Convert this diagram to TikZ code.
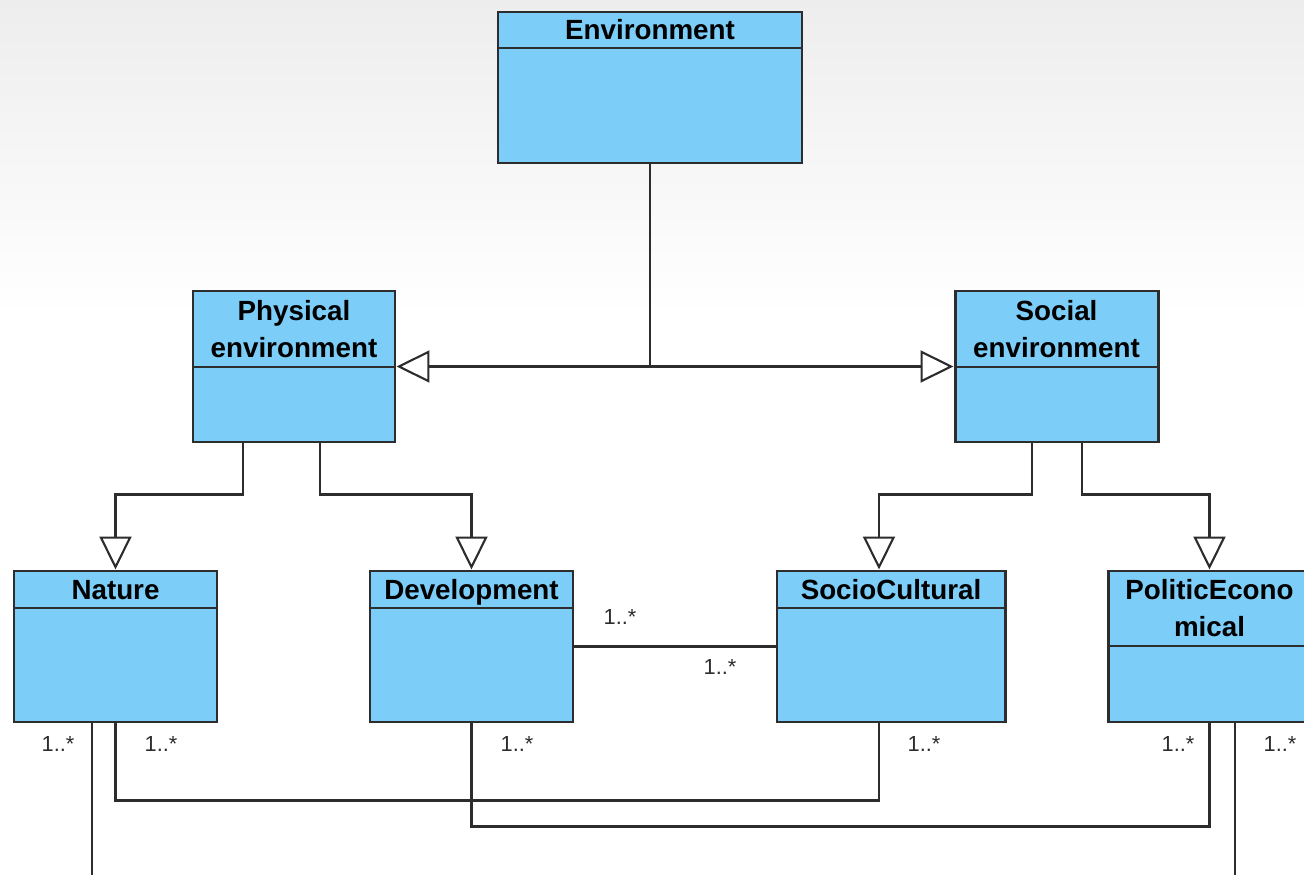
\documentclass[tikz,border=0pt]{standalone}
\usepackage{fontspec}
\setmainfont{Liberation Sans}
\usepackage{tikz}
\usepackage{xcolor}
\usetikzlibrary{positioning,arrows.meta}
\definecolor{classblue}{RGB}{124,205,248}
\definecolor{linegray}{RGB}{45,45,45}

\begin{document}
\begin{tikzpicture}[scale=1.0,
    box/.style={rectangle, draw=linegray, line width=0.85pt, fill=classblue, inner sep=0pt},
    head/.style={rectangle, draw=linegray, line width=0.85pt, fill=classblue, inner sep=0pt,
                 anchor=north, align=center, font=\fontsize{7.9}{10.5}\selectfont\bfseries},
    headone/.style={head, text height=2.0mm, text depth=0mm},
    gen/.style={draw=linegray, line width=0.6pt, -{Triangle[open, length=0.33cm, width=0.32cm]}},
    assoc/.style={draw=linegray, line width=0.6pt},
    mult/.style={font=\fontsize{6.2}{7}\selectfont, text=linegray, inner sep=0pt}]
      %\draw [dotted] (0,0) grid (13,9);
      \useasboundingbox (0,0) rectangle (13.04,8.74);
      \fill [white] (0,0) rectangle (13.04,8.74);
      \shade [top color=black!7, bottom color=white] (0,5.6) rectangle (13.04,8.74);
      % classes
      \node [box, minimum width=3.04cm, minimum height=1.51cm] (env)  at ( 6.500, 7.865) {};
      \node [headone, minimum width=3.04cm, minimum height=0.36cm] (envh) at (env.north) {Environment};
      \node [box, minimum width=2.02cm, minimum height=1.51cm] (phys) at ( 2.940, 5.075) {};
      \node [head, minimum width=2.02cm, minimum height=0.76cm] (physh) at (phys.north) {Physical\\environment};
      \node [box, minimum width=2.03cm, minimum height=1.51cm] (soc)  at (10.565, 5.075) {};
      \node [head, minimum width=2.03cm, minimum height=0.76cm] (soch) at (soc.north) {Social\\environment};
      \node [box, minimum width=2.03cm, minimum height=1.51cm] (nat)  at ( 1.155, 2.275) {};
      \node [headone, minimum width=2.03cm, minimum height=0.37cm] (nath) at (nat.north) {Nature};
      \node [box, minimum width=2.03cm, minimum height=1.51cm] (dev)  at ( 4.715, 2.275) {};
      \node [headone, minimum width=2.03cm, minimum height=0.37cm] (devh) at (dev.north) {Development};
      \node [box, minimum width=2.28cm, minimum height=1.51cm] (soci) at ( 8.910, 2.275) {};
      \node [headone, minimum width=2.28cm, minimum height=0.37cm] (socih) at (soci.north) {SocioCultural};
      \node [box, minimum width=2.03cm, minimum height=1.51cm] (pol)  at (12.095, 2.275) {};
      \node [head, minimum width=2.03cm, minimum height=0.75cm] (polh) at (pol.north) {PoliticEcono\\mical};
      % generalizations
      \coordinate (junc) at (env.south |- phys.east);
      \draw [assoc] (env.south) -- (junc);
      \draw [gen] (junc) -- (phys.east);
      \draw [gen] (junc) -- (soc.west);
      \draw [gen] ([xshift=-0.51cm]phys.south) -- ++(0,-0.51) -| (nat.north);
      \draw [gen] ([xshift=0.26cm]phys.south) -- ++(0,-0.51) -| (dev.north);
      \draw [gen] ([xshift=-0.245cm]soc.south) -- ++(0,-0.51) -| ([xshift=-0.12cm]soci.north);
      \draw [gen] ([xshift=0.255cm]soc.south) -- ++(0,-0.51) -| (pol.north);
      % associations
      \draw [assoc] (dev.east) -- (soci.west);
      \draw [assoc] (nat.south) -- ++(0,-0.77) -| ([xshift=-0.12cm]soci.south);
      \draw [assoc] (dev.south) -- ++(0,-1.03) -| (pol.south);
      \draw [assoc] ([xshift=-0.235cm]nat.south) -- ++(0,-1.54) -| ([xshift=0.255cm]pol.south);
      % multiplicities
      \node [mult] (m1) at ( 6.20, 2.57) {1..*};
      \node [mult] (m2) at ( 7.20, 2.07) {1..*};
      \node [mult] (m3) at ( 0.58, 1.30) {1..*};
      \node [mult] (m4) at ( 1.61, 1.30) {1..*};
      \node [mult] (m5) at ( 5.17, 1.30) {1..*};
      \node [mult] (m6) at ( 9.24, 1.30) {1..*};
      \node [mult] (m7) at (11.78, 1.30) {1..*};
      \node [mult] (m8) at (12.80, 1.30) {1..*};
\end{tikzpicture}
\end{document}
